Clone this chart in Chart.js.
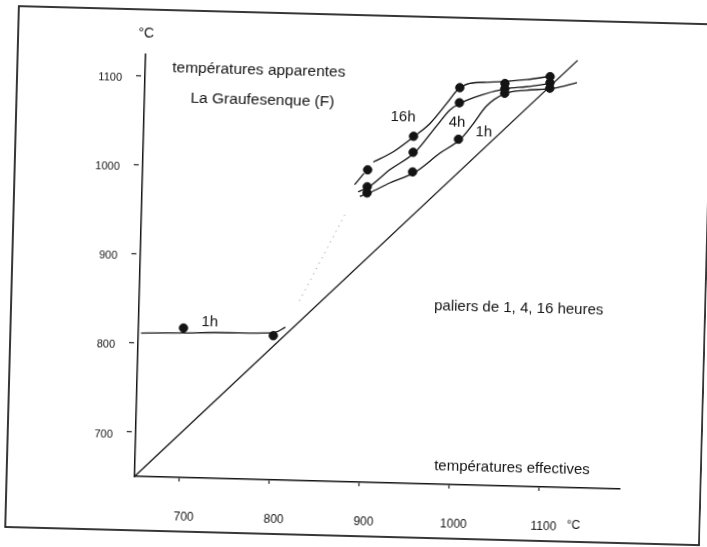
<!DOCTYPE html>
<html>
<head>
<meta charset="utf-8">
<script src="https://cdn.jsdelivr.net/npm/chart.js@4.4.1/dist/chart.umd.min.js"></script>
<style>
  html, body { margin: 0; padding: 0; background: #fff; overflow: hidden; }
  #feuille { position: absolute; left: 0; top: 0; width: 707px; height: 547px; transform: rotate(1.5deg); }
</style>
</head>
<body>
<div id="feuille"><canvas id="graufesenque" width="707" height="547"></canvas></div>
<script>
// graduations des deux axes (°C)
const ticksX = [700, 800, 900, 1000, 1100];
const ticksY = [700, 800, 900, 1000, 1100];

// paliers de 1, 4, 16 heures : températures effectives / apparentes
const palierX = [900, 950, 1000, 1050, 1100];
const palier16h = [1001, 1040, 1096, 1102, 1111];
const palier4h = [982, 1022, 1079, 1096, 1104];
const palier1h = [975, 1000, 1038, 1091, 1098];

// basses températures, palier 1h
const basX = [700, 800];
const bas1h = [818, 812];

// courbes tracées à la main
const courbe16hX = [886, 896, 903, 906, 928, 952, 968, 986, 998, 1011, 1033, 1074, 1103];
const courbe16hY = [984, 997, null, 1010, 1022, 1041, 1055, 1078, 1094, 1101, 1103, 1107, 1112];
const courbe4hX = [890, 902, 925, 952, 975, 990, 1002, 1023, 1051, 1074, 1104];
const courbe4hY = [976, 982, 1002, 1022, 1052, 1071, 1079, 1088, 1096, 1099, 1104];
const courbe1hX = [892, 902, 925, 953, 980, 1002, 1016, 1030, 1051, 1074, 1104, 1130];
const courbe1hY = [971, 975, 987, 1000, 1022, 1038, 1056, 1076, 1091, 1095, 1098, 1105];
const courbeBasX = [653, 700, 750, 795, 805, 813];
const courbeBasY = [811, 812.5, 814, 815, 817, 822];

// droite effective = apparente, et raccord pointillé
const diagonaleX = [650, 1130];
const diagonaleY = [650, 1130];
const pointilleX = [828, 876];
const pointilleY = [852, 950];

function points(xs, ys) {
    return xs.map(function(x, i) { return {x: x, y: ys[i]}; });
}

const police = '"Liberation Sans", Arial, Helvetica, sans-serif';
const encre = '#141414';

function courbe(xs, ys, extra) {
    return Object.assign({
        type: 'line',
        data: points(xs, ys),
        borderColor: encre,
        borderWidth: 1.3,
        pointRadius: 0,
        fill: false,
        cubicInterpolationMode: 'monotone',
        spanGaps: false
    }, extra || {});
}

// cadre et textes posés sur le graphique
const habillage = {
    id: 'habillage',
    beforeDraw: function(chart) {
        var ctx = chart.ctx;
        ctx.save();
        ctx.fillStyle = '#fff';
        ctx.fillRect(0, 0, chart.width, chart.height);
        ctx.strokeStyle = '#222';
        ctx.lineWidth = 1.8;
        ctx.strokeRect(12, 15, 694, 521);
        ctx.restore();
    },
    afterDatasetsDraw: function(chart) {
        var ctx = chart.ctx;
        ctx.save();
        ctx.fillStyle = encre;
        ctx.textBaseline = 'middle';
        ctx.textAlign = 'center';
        ctx.font = '14px ' + police;
        ctx.fillText('°C', 140, 39);
        ctx.textAlign = 'left';
        ctx.font = '15.5px ' + police;
        ctx.fillText('températures apparentes', 167, 73);
        ctx.fillText('La Graufesenque (F)', 186, 103);
        ctx.font = '15px ' + police;
        ctx.fillText('paliers de 1, 4, 16 heures', 435, 304);
        ctx.textAlign = 'center';
        ctx.fillText('températures effectives', 517, 464);
        ctx.fillText('16h', 399, 116);
        ctx.fillText('4h', 453, 120);
        ctx.fillText('1h', 480, 129);
        ctx.fillText('1h', 211, 326);
        ctx.font = '12px ' + police;
        ctx.fillText('°C', 580, 520);
        ctx.restore();
    }
};

const ctx = document.getElementById('graufesenque').getContext('2d');
const graufesenque = new Chart(ctx, {
    data: {
        datasets: [
            courbe(diagonaleX, diagonaleY, {cubicInterpolationMode: 'default', tension: 0, clip: false}),
            courbe(pointilleX, pointilleY, {cubicInterpolationMode: 'default', tension: 0, borderColor: '#8a8a8a', borderWidth: 1, borderDash: [1, 5]}),
            courbe(courbeBasX, courbeBasY),
            courbe(courbe16hX, courbe16hY),
            courbe(courbe4hX, courbe4hY),
            courbe(courbe1hX, courbe1hY),
            {
                type: 'scatter',
                data: points(palierX, palier16h).concat(points(palierX, palier4h), points(palierX, palier1h), points(basX, bas1h)),
                backgroundColor: encre,
                borderColor: encre,
                pointRadius: 4.2,
                pointHoverRadius: 4.2
            }
        ]
    },
    options: {
        responsive: false,
        animation: false,
        devicePixelRatio: 1,
        layout: { padding: { top: 60, right: 82, left: 0, bottom: 0 } },
        plugins: { legend: { display: false }, tooltip: { enabled: false } },
        scales: {
            x: {
                type: 'linear',
                min: 650,
                max: 1189,
                afterBuildTicks: function(scale) { scale.ticks = ticksX.map(function(v) { return {value: v}; }); },
                afterFit: function(scale) { scale.height = 65; },
                border: { display: true, color: encre, width: 1.5 },
                grid: { drawOnChartArea: false, tickLength: 4, color: '#222', tickWidth: 1.2 },
                ticks: {
                    padding: 28,
                    labelOffset: 5,
                    color: encre,
                    font: { family: police, size: 12 },
                    callback: function(v) { return String(v); }
                }
            },
            y: {
                type: 'linear',
                min: 650,
                max: 1124,
                afterBuildTicks: function(scale) { scale.ticks = ticksY.map(function(v) { return {value: v}; }); },
                afterFit: function(scale) { scale.width = 140; },
                border: { display: true, color: encre, width: 1.5 },
                // petit trait détaché de l'axe (tracé de l'extérieur vers l'axe)
                grid: { drawOnChartArea: false, tickLength: 9, color: '#222', tickWidth: 1.2, tickBorderDash: [5, 20] },
                ticks: {
                    padding: 14,
                    labelOffset: 3,
                    color: encre,
                    font: { family: police, size: 11 },
                    callback: function(v) { return String(v); }
                }
            }
        }
    },
    plugins: [habillage]
});
</script>
</body>
</html>
